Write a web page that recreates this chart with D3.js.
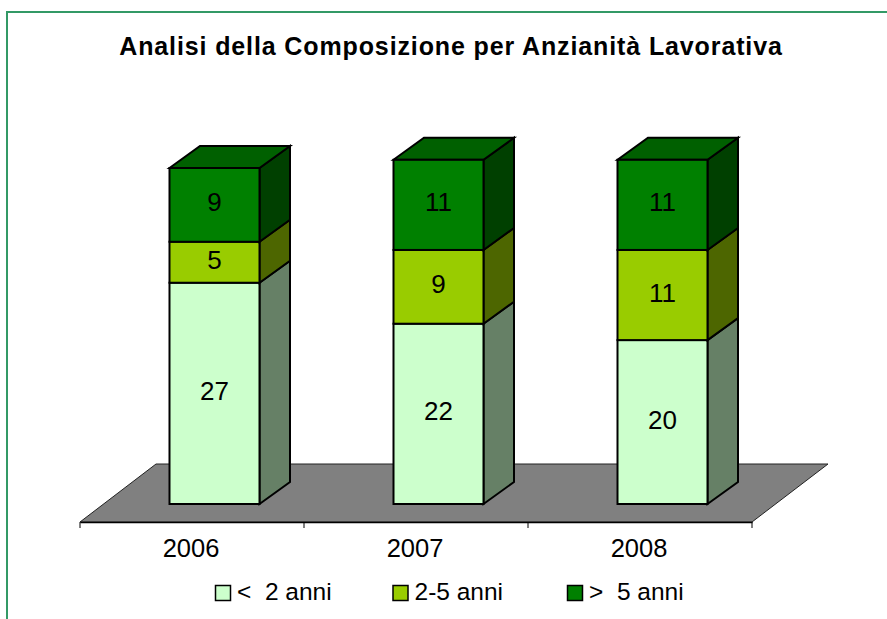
<!DOCTYPE html>
<html lang="it">
  <head>
    <meta charset="UTF-8" />
    <title>Analisi della Composizione</title>
    <script src="https://cdn.jsdelivr.net/npm/d3@7"></script>
    <style>
      html, body { margin: 0; padding: 0; background: #fff; }
      svg { display: block; }
      text { font-family: "Liberation Sans", Arial, sans-serif; fill: #000; }
    </style>
  </head>
  <body>
    <svg id="chart" width="887" height="619"></svg>
    <script>
      const title = "Analisi della Composizione per Anzianità Lavorativa";
      const years = ["2006", "2007", "2008"];
      const seriesNames = ["<  2 anni", "2-5 anni", ">  5 anni"];
      const under2 = [27, 22, 20];
      const from2to5 = [5, 9, 11];
      const over5 = [9, 11, 11];

      const frontColors = ["#ccffcc", "#99cc00", "#008000"];
      const sideColors = ["#668066", "#4d6600", "#004000"];
      const topColors = ["#668066", "#4d6600", "#006000"];

      const svg = d3.select("#chart");

      // frame: only the left and top edges are inside the picture
      svg.append("path")
        .attr("d", d3.line()([[7, 619], [7, 12], [887, 12]]))
        .attr("fill", "none").attr("stroke", "#339966").attr("stroke-width", 2);

      svg.append("text")
        .attr("x", 451).attr("y", 54.5).attr("text-anchor", "middle")
        .attr("font-size", 25).attr("font-weight", "bold")
        .attr("letter-spacing", 0.88)
        .text(title);

      const x = d3.scaleBand().domain(years).range([80, 752]);
      const y = d3.scaleLinear().domain([0, 41]).range([504, 168]);

      const barW = 90, depthX = 30.5, depthY = -22;
      const floorX = 76, floorY = -58;
      const floorY0 = 522;

      // floor
      svg.append("path")
        .attr("d", d3.line()([
          [x.range()[0], floorY0],
          [x.range()[1], floorY0],
          [x.range()[1] + floorX, floorY0 + floorY],
          [x.range()[0] + floorX, floorY0 + floorY],
        ]) + "Z")
        .attr("fill", "#808080").attr("stroke", "#222").attr("stroke-width", 1);

      // category axis
      const axis = d3.axisBottom(x).tickSize(0).tickPadding(0);
      const gx = svg.append("g").attr("transform", `translate(0,${floorY0})`).call(axis);
      gx.select(".domain").attr("stroke", "#000").attr("stroke-width", 1.5);
      gx.selectAll("text").remove();
      gx.selectAll(".tick").remove();
      gx.selectAll("line.sep")
        .data([...years.map((d) => x(d)), x.range()[1]])
        .join("line")
        .attr("class", "sep")
        .attr("x1", (d) => d).attr("x2", (d) => d)
        .attr("y1", 0).attr("y2", 6)
        .attr("stroke", "#000");
      svg.selectAll("text.year")
        .data(years)
        .join("text")
        .attr("class", "year")
        .attr("x", (d) => x(d) + x.bandwidth() / 2 - 1)
        .attr("y", 557)
        .attr("text-anchor", "middle")
        .attr("font-size", 25.5)
        .text((d) => d);

      // stacked columns
      const rows = years.map((year, i) => ({ year, a: under2[i], b: from2to5[i], c: over5[i] }));
      const stacked = d3.stack().keys(["a", "b", "c"])(rows);

      stacked.forEach((layer, s) => {
        const g = svg.append("g");
        layer.forEach((d, i) => {
          const left = x(years[i]) + 89.5;
          const right = left + barW;
          const y0 = y(d[0]), y1 = y(d[1]);
          // side face
          g.append("path")
            .attr("d", d3.line()([[right, y0], [right + depthX, y0 + depthY], [right + depthX, y1 + depthY], [right, y1]]) + "Z")
            .attr("fill", sideColors[s]).attr("stroke", "#000").attr("stroke-width", 2);
          // top only shows on the last series
          if (s === stacked.length - 1) {
            g.append("path")
              .attr("d", d3.line()([[left, y1], [left + depthX, y1 + depthY], [right + depthX, y1 + depthY], [right, y1]]) + "Z")
              .attr("fill", topColors[s]).attr("stroke", "#000").attr("stroke-width", 2);
          }
          g.append("rect")
            .attr("x", left).attr("y", y1).attr("width", barW).attr("height", y0 - y1)
            .attr("fill", frontColors[s]).attr("stroke", "#000").attr("stroke-width", 2);
          g.append("text")
            .attr("x", left + barW / 2).attr("y", (y0 + y1) / 2 + 6.5)
            .attr("text-anchor", "middle").attr("font-size", 26)
            .text(d[1] - d[0]);
        });
      });

      // legend
      const legendX = [215, 392.5, 567];
      const legend = svg.selectAll("g.legend")
        .data(seriesNames)
        .join("g")
        .attr("class", "legend")
        .attr("transform", (d, i) => `translate(${legendX[i]},585)`);
      legend.append("rect")
        .attr("x", 0.5).attr("y", 0.5).attr("width", 15).attr("height", 15)
        .attr("fill", (d, i) => frontColors[i]).attr("stroke", "#000").attr("stroke-width", 1.5);
      legend.append("text")
        .attr("x", 22).attr("y", 14.5).attr("font-size", 24.5)
        .attr("xml:space", "preserve")
        .text((d) => d);
    </script>
  </body>
</html>
